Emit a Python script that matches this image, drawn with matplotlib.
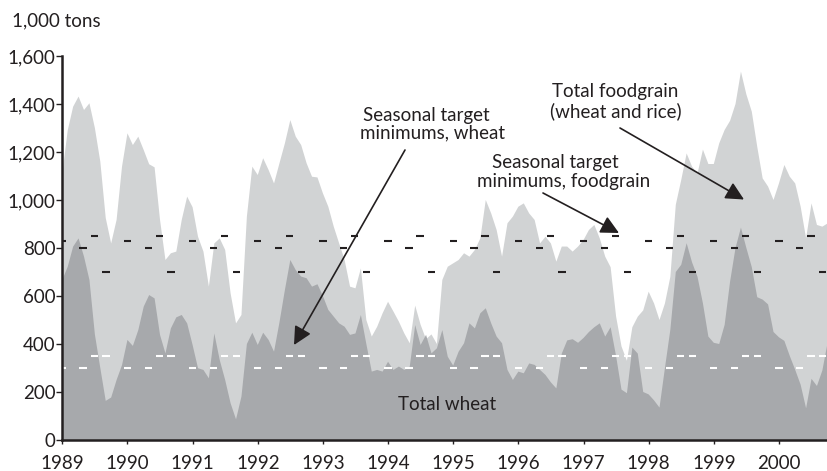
import matplotlib
matplotlib.use('Agg')
import matplotlib.pyplot as plt
import numpy as np
from matplotlib.ticker import FuncFormatter, FixedLocator

# ---------------- data (monthly, Jan 1989 .. Oct 2000), 1,000 tons ----------------
year_ticks = list(range(1989, 2001))
y_ticks = [0, 200, 400, 600, 800, 1000, 1200, 1400, 1600]

food = [
    1110, 1290, 1389, 1431, 1375, 1403, 1300, 1160, 925, 819, 917, 1139,   # 1989
    1278, 1229, 1264, 1208, 1149, 1136, 917, 750, 778, 785, 917, 1014,     # 1990
    970, 847, 785, 639, 819, 840, 792, 611, 486, 521, 931, 1139,           # 1991
    1104, 1174, 1125, 1069, 1153, 1236, 1333, 1264, 1229, 1153, 1097, 1094,# 1992
    1028, 972, 889, 819, 750, 639, 632, 715, 500, 431, 472, 528,           # 1993
    576, 535, 493, 444, 403, 560, 480, 420, 440, 400, 667, 722,            # 1994
    736, 750, 778, 764, 792, 840, 1000, 944, 875, 764, 903, 931,           # 1995
    972, 986, 944, 917, 819, 847, 819, 743, 806, 806, 785, 806,            # 1996
    833, 875, 896, 840, 764, 720, 515, 390, 330, 470, 514, 540,            # 1997
    618, 569, 500, 569, 680, 980, 1083, 1194, 1139, 1110, 1210, 1150,      # 1998
    1150, 1236, 1292, 1330, 1400, 1535, 1440, 1368, 1222, 1090, 1056, 1000,# 1999
    1069, 1146, 1097, 1069, 972, 840, 986, 896, 889, 903,                  # 2000
]

wheat = [
    667, 722, 806, 840, 764, 667, 440, 300, 163, 177, 250, 312,            # 1989
    417, 392, 458, 556, 604, 590, 438, 361, 465, 511, 521, 486,            # 1990
    396, 299, 292, 257, 444, 333, 250, 153, 86, 181, 400, 447,             # 1991
    396, 447, 417, 368, 490, 625, 750, 708, 681, 674, 639, 649,            # 1992
    600, 542, 514, 486, 472, 438, 444, 521, 400, 285, 292, 285,            # 1993
    326, 292, 306, 292, 306, 479, 396, 438, 361, 382, 458, 347,            # 1994
    310, 368, 403, 486, 465, 528, 549, 486, 431, 403, 292, 250,            # 1995
    285, 278, 319, 313, 292, 271, 240, 215, 360, 415, 420, 405,            # 1996
    425, 450, 470, 486, 431, 470, 350, 210, 195, 385, 360, 200,            # 1997
    190, 165, 135, 300, 460, 700, 730, 820, 740, 680, 569, 431,            # 1998
    405, 400, 480, 660, 800, 885, 800, 720, 595, 585, 565, 450,            # 1999
    428, 413, 350, 292, 230, 132, 255, 225, 290, 410,                      # 2000
]

# seasonal target minimums (dates within a year as fraction of year)
season_offsets = [0.0, 0.32, 0.49, 0.67]
food_targets = [830, 800, 850, 700]
wheat_targets = [300, 300, 350, 350]

# ---------------- styling ----------------
W, H = 827, 471
LIGHT = '#d1d3d4'
DARK = '#a7a9ac'
INK = '#231f20'
FONT = ['Lato', 'DejaVu Sans']
FS = 13.5
plt.rcParams['font.family'] = FONT

fig = plt.figure(figsize=(W / 100, H / 100), dpi=100)

x0_px, y0_px, ytop_px = 62.3, 440.0, 56.0
ax = fig.add_axes([x0_px / W, 1 - y0_px / H, 1 - x0_px / W, (y0_px - ytop_px) / H])

t = 1989 + np.arange(len(food)) / 12.0
ax.fill_between(t, 0, food, facecolor=LIGHT, edgecolor='none', linewidth=0, zorder=1)
ax.fill_between(t, 0, wheat, facecolor=DARK, edgecolor='none', linewidth=0, zorder=2)

dash_w = 0.112
for yr in year_ticks:
    for off, fv, wv in zip(season_offsets, food_targets, wheat_targets):
        c = yr + off
        ax.plot([c - dash_w / 2, c + dash_w / 2], [fv, fv], color=INK, lw=1.5,
                solid_capstyle='butt', zorder=4)
        ax.plot([c - dash_w / 2, c + dash_w / 2], [wv, wv], color='white', lw=1.5,
                solid_capstyle='butt', zorder=4)

px_per_year = 65.15
x_right = 1989 + (W - x0_px) / px_per_year
ax.set_xlim(1989, x_right)
ax.set_ylim(0, 1600)

for s in ['top', 'right']:
    ax.spines[s].set_visible(False)
for s in ['left', 'bottom']:
    ax.spines[s].set_linewidth(1.8)
    ax.spines[s].set_color(INK)
    ax.spines[s].set_zorder(6)

ax.xaxis.set_major_locator(FixedLocator(year_ticks))
ax.set_xticklabels([str(y) for y in year_ticks])
ax.yaxis.set_major_locator(FixedLocator(y_ticks))
ax.yaxis.set_major_formatter(FuncFormatter(lambda v, p: f'{int(v):,}'))
ax.tick_params(axis='y', direction='out', length=4, width=1.0, color=INK,
               labelsize=FS, labelcolor=INK, pad=1)
ax.tick_params(axis='x', direction='out', length=3, width=1.0, color=INK,
               labelsize=FS, labelcolor=INK, pad=8)
ax.set_facecolor('white')


def fx(x):
    return x / W


def fy(y):
    return 1 - y / H


def px2data(x, y):
    return 1989 + (x - x0_px) / px_per_year, (y0_px - y) / 0.24


def label(x, y, s):
    fig.text(fx(x), fy(y), s, ha='left', va='baseline', fontsize=FS, color=INK)


label(12, 26.5, '1,000 tons')
label(363, 120.5, 'Seasonal target')
label(360, 138, 'minimums, wheat')
label(491.5, 168, 'Seasonal target')
label(477, 187, 'minimums, foodgrain')
label(551.5, 96.5, 'Total foodgrain')
label(549.5, 117.5, '(wheat and rice)')
label(398, 410, 'Total wheat')


def arrow(start_px, tip_px):
    ax.annotate('', xy=px2data(*tip_px), xytext=px2data(*start_px),
                xycoords='data', textcoords='data',
                arrowprops=dict(arrowstyle='-|>,head_length=1.1,head_width=0.55',
                                mutation_scale=10, lw=1.2, color=INK,
                                shrinkA=0, shrinkB=0),
                annotation_clip=False, zorder=7)


arrow((405, 150), (294, 345))
arrow((543, 193), (619, 233))
arrow((620, 128), (744, 199.5))

fig.savefig('out.png', dpi=100)
